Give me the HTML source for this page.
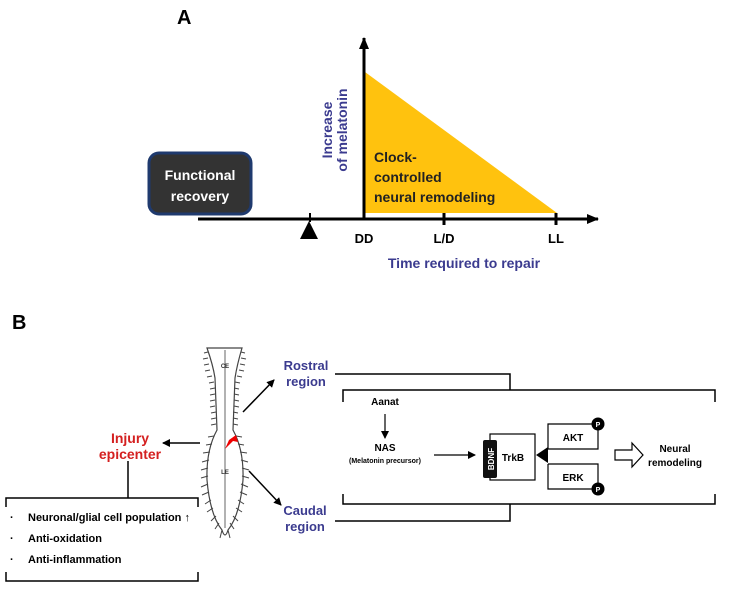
<!DOCTYPE html>
<html><head><meta charset="utf-8"><style>
body{margin:0;background:#fff}
svg text{font-family:"Liberation Sans",Arial,sans-serif;font-weight:bold}
</style></head><body>
<svg width="754" height="587" viewBox="0 0 754 587" xmlns="http://www.w3.org/2000/svg">
<defs>
<marker id="ah" markerWidth="8" markerHeight="8" refX="7" refY="4" orient="auto" markerUnits="userSpaceOnUse"><path d="M0,0L8,4L0,8z" fill="#000"/></marker>
<marker id="ah2" markerWidth="12" markerHeight="10" refX="11" refY="5" orient="auto" markerUnits="userSpaceOnUse"><path d="M0,0L12,5L0,10z" fill="#000"/></marker>
</defs>
<text x="177" y="24" font-size="20">A</text>
<polygon points="365,72 365,213 557,213" fill="#ffc20e"/>
<line x1="198" y1="219" x2="598" y2="219" stroke="#000" stroke-width="3" marker-end="url(#ah2)"/>
<line x1="364" y1="219" x2="364" y2="38" stroke="#000" stroke-width="3" marker-end="url(#ah2)"/>
<line x1="444" y1="213" x2="444" y2="225" stroke="#000" stroke-width="3"/>
<line x1="556" y1="213" x2="556" y2="225" stroke="#000" stroke-width="3"/>
<line x1="310" y1="213" x2="310" y2="222" stroke="#000" stroke-width="2"/>
<polygon points="300,239 309,221 318,239" fill="#000"/>
<rect x="149" y="153" width="102" height="61" rx="10" fill="#333" stroke="#1f3a6e" stroke-width="3"/>
<text x="200" y="180" font-size="14" fill="#fff" text-anchor="middle">Functional</text>
<text x="200" y="201" font-size="14" fill="#fff" text-anchor="middle">recovery</text>
<text transform="translate(332,130) rotate(-90)" font-size="14" fill="#3b3b8f" text-anchor="middle">Increase</text>
<text transform="translate(347,130) rotate(-90)" font-size="14" fill="#3b3b8f" text-anchor="middle">of melatonin</text>
<text x="374" y="162" font-size="14" fill="#222">Clock-</text>
<text x="374" y="182" font-size="14" fill="#222">controlled</text>
<text x="374" y="202" font-size="14" fill="#222">neural remodeling</text>
<text x="364" y="243" font-size="13" text-anchor="middle">DD</text>
<text x="444" y="243" font-size="13" text-anchor="middle">L/D</text>
<text x="556" y="243" font-size="13" text-anchor="middle">LL</text>
<text x="464" y="268" font-size="14" fill="#3b3b8f" text-anchor="middle">Time required to repair</text>
<text x="12" y="329" font-size="20">B</text>
<path d="M207,348 L242,348 Q237,365 235,378 L233,430 Q244,450 243,480 Q240,515 228,530 Q225,540 222,530 Q210,515 207,480 Q206,450 217,430 L215,378 Q213,365 207,348Z" fill="#fff" stroke="#444" stroke-width="1.2"/>
<line x1="225" y1="350" x2="225" y2="528" stroke="#666" stroke-width="1"/>
<g stroke="#444" stroke-width="1" fill="none">
<path d="M208,352 l-4,1 M208,358 l-5,1 M209,364 l-5,1 M210,370 l-5,1 M212,376 l-5,1 M214,382 l-5,1 M215,388 l-5,1 M215,394 l-5,1 M215,400 l-5,1 M215,406 l-5,1 M216,412 l-5,1 M216,418 l-5,1 M216,424 l-5,1 M214,436 l-6,1 M212,444 l-6,1 M210,452 l-7,1 M209,460 l-7,2 M208,468 l-7,2 M208,476 l-7,2 M208,484 l-7,3 M209,492 l-7,3 M211,500 l-6,4 M213,508 l-6,4 M216,516 l-5,5 M219,523 l-4,6 M222,530 l-2,8"/>
<path d="M241,352 l4,1 M241,358 l5,1 M240,364 l5,1 M239,370 l5,1 M237,376 l5,1 M235,382 l5,1 M234,388 l5,1 M234,394 l5,1 M234,400 l5,1 M234,406 l5,1 M233,412 l5,1 M233,418 l5,1 M233,424 l5,1 M236,436 l6,1 M238,444 l6,1 M240,452 l7,1 M241,460 l7,2 M242,468 l7,2 M242,476 l7,2 M241,484 l7,3 M240,492 l7,3 M238,500 l6,4 M236,508 l6,4 M233,516 l5,5 M230,523 l4,6 M228,530 l2,8"/>
</g>
<text x="225" y="368" font-size="6" text-anchor="middle" fill="#333">CE</text>
<text x="225" y="474" font-size="6" text-anchor="middle" fill="#333">LE</text>
<polygon points="236,435 229,440 225,449 233,441 238,442" fill="#e00"/>
<line x1="200" y1="443" x2="163" y2="443" stroke="#000" stroke-width="1.5" marker-end="url(#ah)"/>
<line x1="243" y1="412" x2="274" y2="380" stroke="#000" stroke-width="1.5" marker-end="url(#ah)"/>
<line x1="249" y1="471" x2="281" y2="505" stroke="#000" stroke-width="1.5" marker-end="url(#ah)"/>
<text x="130" y="443" font-size="14" fill="#d42020" text-anchor="middle">Injury</text>
<text x="130" y="459" font-size="14" fill="#d42020" text-anchor="middle">epicenter</text>
<text x="306" y="370" font-size="13" fill="#3b3b8f" text-anchor="middle">Rostral</text>
<text x="306" y="386" font-size="13" fill="#3b3b8f" text-anchor="middle">region</text>
<text x="305" y="515" font-size="13" fill="#3b3b8f" text-anchor="middle">Caudal</text>
<text x="305" y="531" font-size="13" fill="#3b3b8f" text-anchor="middle">region</text>
<g stroke="#000" stroke-width="1.5" fill="none">
<path d="M128,461 V498 M6,507 V498 H198 V507 M6,572 V581 H198 V572"/>
<path d="M335,374 H510 V390 M343,402 V390 H715 V402 M343,494 V504 H715 V494 M510,504 V521 H335"/>
</g>
<g font-size="11">
<text x="10" y="521">·</text><text x="28" y="521">Neuronal/glial cell population ↑</text>
<text x="10" y="542">·</text><text x="28" y="542">Anti-oxidation</text>
<text x="10" y="563">·</text><text x="28" y="563">Anti-inflammation</text>
</g>
<text x="385" y="405" font-size="10" text-anchor="middle">Aanat</text>
<line x1="385" y1="414" x2="385" y2="438" stroke="#000" stroke-width="1.2" marker-end="url(#ah)"/>
<text x="385" y="451" font-size="10" text-anchor="middle">NAS</text>
<text x="385" y="463" font-size="7" text-anchor="middle">(Melatonin precursor)</text>
<line x1="434" y1="455" x2="475" y2="455" stroke="#000" stroke-width="1.2" marker-end="url(#ah)"/>
<rect x="490" y="434" width="45" height="46" fill="#fff" stroke="#000" stroke-width="1.2"/>
<rect x="483" y="440" width="14" height="38" rx="2" fill="#111"/>
<text transform="translate(494,459) rotate(-90)" font-size="8" fill="#fff" text-anchor="middle" font-weight="normal">BDNF</text>
<text x="513" y="461" font-size="10" text-anchor="middle" font-weight="normal">TrkB</text>
<polygon points="536,455 548,447 548,463" fill="#000"/>
<g stroke="#000" stroke-width="1.2" fill="none">
<path d="M548,449 V424 H598 V449 H548 M548,464 V489 H598 V464 H548"/>
</g>
<text x="573" y="441" font-size="10" text-anchor="middle" font-weight="normal">AKT</text>
<text x="573" y="481" font-size="10" text-anchor="middle" font-weight="normal">ERK</text>
<circle cx="598" cy="424" r="6.5" fill="#000"/><text x="598" y="427" font-size="7" fill="#fff" text-anchor="middle">P</text>
<circle cx="598" cy="489" r="6.5" fill="#000"/><text x="598" y="492" font-size="7" fill="#fff" text-anchor="middle">P</text>
<polygon points="615,450 632,450 632,443 643,455 632,467 632,460 615,460" fill="#fff" stroke="#000" stroke-width="1.2"/>
<text x="675" y="452" font-size="10" text-anchor="middle">Neural</text>
<text x="675" y="466" font-size="10" text-anchor="middle">remodeling</text>
</svg>
</body></html>
